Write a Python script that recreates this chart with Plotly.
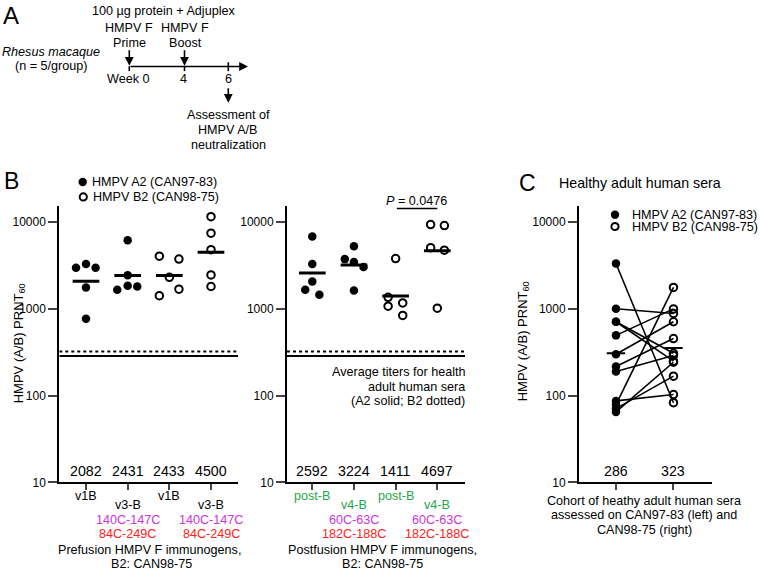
import plotly.graph_objects as go

W, H = 760, 577
FONT = "Liberation Sans, Arial, sans-serif"
GREEN = "#1fa84a"
MAGENTA = "#cc33dd"
RED = "#ff2020"
TS = 12.6  # body text size

# ---- data ----
pre_names = ["v1B", "v3-B", "v1B", "v3-B"]
pre_mut1 = ["", "140C-147C", "", "140C-147C"]
pre_mut2 = ["", "84C-249C", "", "84C-249C"]
post_names = ["post-B", "v4-B", "post-B", "v4-B"]
post_mut1 = ["", "60C-63C", "", "60C-63C"]
post_mut2 = ["", "182C-188C", "", "182C-188C"]

pre_gmt = [2082, 2431, 2433, 4500]
post_gmt = [2592, 3224, 1411, 4697]

pre_v1b_a2 = [2992, 3297, 2992, 1770, 771]
pre_v3b_a2 = [6188, 2443, 1667, 1851, 1817]
pre_v1b_b2 = [4066, 3758, 2319, 1424, 1693]
pre_v3b_b2 = [11610, 7493, 4835, 2471, 1817]

post_postb_a2 = [6873, 3297, 2072, 1667, 1462]
post_v4b_a2 = [5286, 3758, 3473, 3046, 1636]
post_postb_b2 = [3818, 1362, 1076, 1173, 843]
post_v4b_b2 = [9413, 9167, 5097, 4760, 1020]

human_avg = [286, 323]          # A2 (solid), B2 (dotted)
human_a2 = [3350, 1007, 712, 712, 496, 301, 217, 190, 87, 79, 71, 65]
human_b2 = [83, 888, 308, 250, 1002, 712, 456, 290, 103, 1770, 168, 243]
human_center = [309, 355]
p_text = "<i>P</i> = 0.0476"

# jitter used in the original dot plots (x offsets from category)
pre_jit = [[-0.24, 0, 0.23, 0, 0], [0, 0, -0.25, 0, 0.23],
           [-0.24, 0.23, 0, -0.24, 0.23], [0, 0, 0, 0, 0]]
post_jit = [[0, 0, 0, -0.17, 0.17], [0, -0.22, 0, 0.23, 0],
            [0, -0.18, -0.18, 0.17, 0.17], [-0.16, 0.17, -0.16, 0.17, 0]]


def px(v):
    return v / W


def py(v):
    return 1 - v / H


fig = go.Figure()


def text(x, y, s, size=TS, color="black", xref="paper", xanchor="center", **kw):
    fig.add_annotation(x=x, y=py(y), xref=xref, yref="paper", text=s, showarrow=False,
                       font=dict(family=FONT, size=size, color=color),
                       xanchor=xanchor, yanchor="middle", **kw)


def arrow(x, y, ax, ay):
    fig.add_annotation(x=px(x), y=py(y), xref="paper", yref="paper", text="",
                       showarrow=True, ax=ax, ay=ay, arrowhead=2, arrowsize=1.1,
                       arrowwidth=1.6, arrowcolor="black")


def dots(xa, ya, cat, values, offs, filled):
    if filled:
        marker = dict(symbol="circle", size=8.5, color="black")
    else:
        marker = dict(symbol="circle-open", size=7.5, color="black", line=dict(width=2, color="black"))
    fig.add_trace(go.Scatter(x=[cat + o for o in offs], y=values, mode="markers",
                             xaxis=xa, yaxis=ya, marker=marker, cliponaxis=False))


def bars(xa, ya, vals, half, width):
    xs, ys = [], []
    for i, v in enumerate(vals):
        xs += [i + 1 - half, i + 1 + half, None]
        ys += [v, v, None]
    fig.add_trace(go.Scatter(x=xs, y=ys, mode="lines", xaxis=xa, yaxis=ya,
                             line=dict(color="black", width=width)))


# Panel B (prefusion / postfusion)
# ----------------------------
pre_range = [0.359, 4.648]
post_range = [0.393, 4.665]
pre_groups = [(pre_v1b_a2, True), (pre_v3b_a2, True), (pre_v1b_b2, False), (pre_v3b_b2, False)]
post_groups = [(post_postb_a2, True), (post_v4b_a2, True), (post_postb_b2, False), (post_v4b_b2, False)]

for xa, ya, rng in [("x", "y", pre_range), ("x2", "y2", post_range)]:
    fig.add_trace(go.Scatter(x=rng, y=[human_avg[1]] * 2, mode="lines", xaxis=xa, yaxis=ya,
                             line=dict(color="black", width=2, dash="dot")))
    fig.add_trace(go.Scatter(x=rng, y=[human_avg[0]] * 2, mode="lines", xaxis=xa, yaxis=ya,
                             line=dict(color="black", width=2)))

for i, (vals, filled) in enumerate(pre_groups):
    dots("x", "y", i + 1, vals, pre_jit[i], filled)
for i, (vals, filled) in enumerate(post_groups):
    dots("x2", "y2", i + 1, vals, post_jit[i], filled)
bars("x", "y", pre_gmt, 0.32, 3)
bars("x2", "y2", post_gmt, 0.32, 3)

# significance bracket
fig.add_trace(go.Scatter(x=[3.03, 4.0], y=[14400, 14400], mode="lines", xaxis="x2", yaxis="y2",
                         line=dict(color="black", width=1.5), cliponaxis=False))
text(3.5, 203, p_text, xref="x2")

# Panel C (paired human sera)
# ----------------------------
xs, ys = [], []
for a, b in zip(human_a2, human_b2):
    xs += [1, 2, None]
    ys += [a, b, None]
fig.add_trace(go.Scatter(x=xs, y=ys, mode="lines", xaxis="x3", yaxis="y3",
                         line=dict(color="black", width=1.6)))
dots("x3", "y3", 1, human_a2, [0] * len(human_a2), True)
dots("x3", "y3", 2, human_b2, [0] * len(human_b2), False)
bars("x3", "y3", human_center, 0.16, 2)

# Axes
# ----------------------------
y_dom = [py(488.3), py(209)]
y_top = 4 + 16 / 87.77
yax = dict(type="log", range=[1, y_top], domain=y_dom, tickvals=[10, 100, 1000, 10000],
           ticktext=["10", "100", "1000", "10000"], ticks="outside", ticklen=9, tickwidth=1.5,
           showline=True, linewidth=2, linecolor="black", showgrid=False, zeroline=False,
           tickfont=dict(family=FONT, size=12, color="black"))
xax = dict(tickvals=[1, 2, 3, 4], showticklabels=False, ticks="outside", ticklen=6, tickwidth=2,
           showline=True, linewidth=2, linecolor="black", showgrid=False, zeroline=False)

fig.update_layout(
    width=W, height=H, autosize=False,
    margin=dict(l=0, r=0, t=0, b=0),
    paper_bgcolor="white", plot_bgcolor="white",
    showlegend=False,
    xaxis=dict(xax, domain=[px(59.3), px(238)], range=pre_range, anchor="y"),
    yaxis=dict(yax, anchor="x"),
    xaxis2=dict(xax, domain=[px(287), px(465)], range=post_range, anchor="y2"),
    yaxis2=dict(yax, anchor="x2"),
    xaxis3=dict(xax, domain=[px(579), px(712)], range=[0.357, 2.67], tickvals=[1, 2], anchor="y3"),
    yaxis3=dict(yax, anchor="x3"),
)

# Texts for panel B and C
# ----------------------------
ytitle = "HMPV (A/B) PRNT<sub>60</sub>"
fig.add_annotation(x=px(9), y=py(348), xref="paper", yref="paper", text=ytitle, textangle=-90,
                   showarrow=False, font=dict(family=FONT, size=13, color="black"))
fig.add_annotation(x=px(534), y=py(346), xref="paper", yref="paper", text=ytitle, textangle=-90,
                   showarrow=False, font=dict(family=FONT, size=13, color="black"))

for i in range(4):
    text(i + 1, 476.7, str(pre_gmt[i]), size=14.2, xref="x")
    text(i + 1, 476.7, str(post_gmt[i]), size=14.2, xref="x2")
    if pre_mut1[i]:
        text(i + 1, 511.7, pre_names[i], xref="x")
        text(i + 1, 526.5, pre_mut1[i], color=MAGENTA, xref="x")
        text(i + 1, 540.7, pre_mut2[i], color=RED, xref="x")
        text(i + 1, 511, post_names[i], color=GREEN, xref="x2")
        text(i + 1, 526, post_mut1[i], color=MAGENTA, xref="x2")
        text(i + 1, 540.7, post_mut2[i], color=RED, xref="x2")
    else:
        text(i + 1, 501.7, pre_names[i], xref="x")
        text(i + 1, 501.7, post_names[i], color=GREEN, xref="x2")

text(px(149.5), 556.5, "Prefusion HMPV F immunogens,")
text(px(151), 570.5, "B2: CAN98-75")
text(px(382.5), 556.5, "Postfusion HMPV F immunogens,")
text(px(382), 570.5, "B2: CAN98-75")

text(px(467), 377, "Average titers for health", xanchor="right")
text(px(467), 391.5, "adult human sera", xanchor="right")
text(px(467), 406, "(A2 solid; B2 dotted)", xanchor="right")

for i in range(2):
    text(i + 1, 476.7, str(human_avg[i]), size=14.2, xref="x3")
text(px(644), 507, "Cohort of heathy adult human sera")
text(px(644), 521.7, "assessed on CAN97-83 (left) and")
text(px(644), 536.7, "CAN98-75 (right)")

text(px(640), 185, "Healthy adult human sera", size=14.2)

# legends (markers as shapes, labels as text)
for cx, cy, filled, tx, label in [
    (82.7, 184.3, True, 90, "HMPV A2 (CAN97-83)"),
    (83.3, 199.3, False, 91, "HMPV B2 (CAN98-75)"),
    (615, 217.3, True, 629.5, "HMPV A2 (CAN97-83)"),
    (615, 229.3, False, 629.5, "HMPV B2 (CAN98-75)"),
]:
    r = 4.2 if filled else 3.6
    fig.add_shape(type="circle", xref="paper", yref="paper", xsizemode="pixel", ysizemode="pixel",
                  xanchor=px(cx), yanchor=py(cy), x0=-r, x1=r, y0=-r, y1=r,
                  fillcolor="black" if filled else "white",
                  line=dict(color="black", width=0 if filled else 2))
    text(px(tx), cy, label, xanchor="left")

# Panel letters
text(px(11), 16, "A", size=24)
text(px(11), 183, "B", size=23)
text(px(527), 185, "C", size=23)

# Panel A (schedule)
# ----------------------------
text(px(163), 11, "100 µg protein + Adjuplex")
text(px(129.3), 28.3, "HMPV F")
text(px(129.3), 44, "Prime")
text(px(184.7), 28.3, "HMPV F")
text(px(185), 44, "Boost")
text(px(51.3), 53, "<i>Rhesus macaque</i>")
text(px(51), 66.5, "(n = 5/group)")
text(px(128), 80, "Week 0")
text(px(183.5), 80, "4")
text(px(228.3), 80, "6")
text(px(228.3), 116.7, "Assessment of")
text(px(228.3), 131.7, "HMPV A/B")
text(px(228.3), 146.7, "neutralization")

arrow(129.3, 66.5, 0, -17)
arrow(184.5, 66.5, 0, -17)
arrow(248, 67.3, -119, 0)
arrow(228.3, 104, 0, -16)
for tx, top in [(129.3, 67), (184.5, 67), (228.3, 63)]:
    fig.add_shape(type="line", xref="paper", yref="paper", x0=px(tx), x1=px(tx),
                  y0=py(top), y1=py(72), line=dict(color="black", width=1.6))

# the page body has a default 8px margin; drop it so the figure sits at the window origin
fig.write_html("out.html", config={"displayModeBar": False},
               post_script="document.body.style.margin='0';")
